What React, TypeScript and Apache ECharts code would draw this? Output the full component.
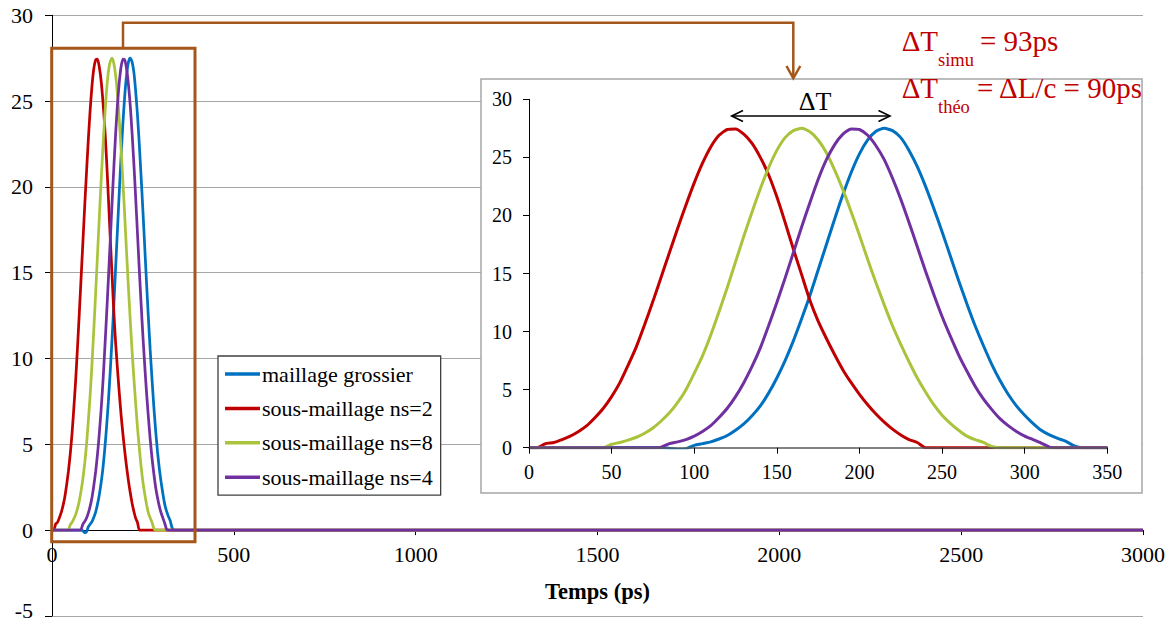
import React, { useEffect, useRef } from "react";
import * as echarts from "echarts";

const TIMES = [0, 5, 10, 15, 20, 25, 30, 35, 40, 45, 50, 55, 60, 65, 70, 75, 80, 85, 90, 95, 100, 105, 110, 115, 120, 125, 130, 135, 140, 145, 150, 155, 160, 165, 170, 175, 180, 185, 190, 195, 200, 205, 210, 215, 220, 225, 230, 235, 240, 245, 250, 255, 260, 265, 270, 275, 280, 285, 290, 295, 300, 305, 310, 315, 320, 325, 330, 335, 340, 345, 350];
const MAIN_END_TIME = 3000;
const SERIES_NAMES = ["maillage grossier", "sous-maillage ns=2", "sous-maillage ns=8", "sous-maillage ns=4"];

const COARSE = [0, 0, 0, 0, 0, 0, 0, 0, 0, 0, 0, 0, 0, 0, 0, 0, 0,
  -0.05, -0.15, -0.1, 0.2, 0.35, 0.5, 0.75, 1.05, 1.5, 2.05, 2.75, 3.6, 4.7, 6.0, 7.5, 9.2, 11.1, 13.1, 15.3, 17.5, 19.7, 21.8, 23.7, 25.3, 26.5, 27.25, 27.5, 27.3, 26.7, 25.6, 24.2, 22.5, 20.6, 18.6, 16.5, 14.4, 12.4, 10.5, 8.8, 7.2, 5.8, 4.6, 3.6, 2.8, 2.1, 1.5, 1.1, 0.8, 0.55, 0.15,
  0, 0, 0, 0];
const NS2 = [0, 0, 0.35, 0.45, 0.7, 1.0, 1.4, 1.9, 2.6, 3.4, 4.4, 5.6, 7.1, 8.7, 10.6, 12.6, 14.7, 16.8, 18.9, 20.9, 22.8, 24.5, 25.9, 26.9, 27.4, 27.45, 27.0, 26.2, 25.0, 23.5, 21.6, 19.4, 17.1, 14.9, 12.7, 10.9, 9.4, 8.0, 6.7, 5.6, 4.6, 3.7, 2.9, 2.2, 1.6, 1.1, 0.7, 0.45, 0,
  0, 0, 0, 0, 0, 0, 0, 0, 0, 0, 0, 0, 0, 0, 0, 0, 0, 0, 0, 0, 0, 0];
const NS8 = [0, 0, 0, 0, 0, 0, 0, 0, 0, 0,
  0.3, 0.45, 0.65, 0.9, 1.25, 1.7, 2.3, 3.0, 3.9, 5.0, 6.4, 7.9, 9.7, 11.7, 13.8, 16.0, 18.2, 20.3, 22.3, 24.1, 25.6, 26.7, 27.3, 27.5, 27.2, 26.5, 25.4, 23.9, 22.2, 20.3, 18.3, 16.2, 14.2, 12.3, 10.5, 8.9, 7.4, 6.0, 4.8, 3.7, 2.8, 2.1, 1.5, 1.0, 0.7, 0.45, 0.1,
  0, 0, 0, 0, 0, 0, 0, 0, 0, 0, 0, 0, 0, 0];
const NS4 = [0, 0, 0, 0, 0, 0, 0, 0, 0, 0, 0, 0, 0, 0, 0, 0,
  0.05, 0.35, 0.5, 0.7, 1.0, 1.4, 1.9, 2.6, 3.4, 4.4, 5.6, 7.0, 8.6, 10.5, 12.5, 14.6, 16.8, 19.0, 21.1, 23.1, 24.8, 26.1, 27.0, 27.45, 27.4, 26.9, 26.0, 24.8, 23.2, 21.4, 19.4, 17.3, 15.2, 13.2, 11.3, 9.6, 8.0, 6.6, 5.3, 4.2, 3.3, 2.5, 1.9, 1.4, 1.0, 0.7, 0.4, 0.05,
  0, 0, 0, 0, 0, 0, 0];

const SERIES_VALUES = [COARSE, NS2, NS8, NS4];
const COLORS = ["#0070C0", "#C00000", "#A9C43C", "#7030A0"];
const FONT = "Liberation Serif";
const BROWN = "#A5561A";
const RED_TEXT = "#C00000";

export default function App() {
  const ref = useRef<HTMLDivElement>(null);
  useEffect(() => {
    if (!ref.current) return;
    const chart = echarts.init(ref.current, undefined, { renderer: "svg" });

    const insetData = SERIES_VALUES.map((vals) => TIMES.map((t, i) => [t, vals[i]]));
    const mainData = insetData.map((d) => d.concat([[MAIN_END_TIME, 0]]));

    const series: any[] = [];
    SERIES_NAMES.forEach((name, i) => {
      series.push({
        name, type: "line", xAxisIndex: 0, yAxisIndex: 0, data: mainData[i],
        symbol: "none", showSymbol: false, smooth: 0.2,
        lineStyle: { color: COLORS[i], width: 2.75 }, itemStyle: { color: COLORS[i] },
      });
    });
    SERIES_NAMES.forEach((name, i) => {
      series.push({
        name, type: "line", xAxisIndex: 1, yAxisIndex: 1, data: insetData[i],
        symbol: "none", showSymbol: false, smooth: 0.2, z: 5,
        lineStyle: { color: COLORS[i], width: 3 }, itemStyle: { color: COLORS[i] },
      });
    });

    const labelBase = { color: "#000", fontFamily: FONT };
    const plain = (v: number) => String(v);
    const mainYLabel = (v: number) => (v < 0 ? "{lo|" + v + "}" : String(v));

    chart.setOption({
      animation: false,
      backgroundColor: "#fff",
      textStyle: { fontFamily: FONT },
      grid: [
        { left: 52, top: 15.3, width: 1091, height: 600.6, outerBoundsMode: "none", containLabel: false },
        { left: 529, top: 99.3, width: 578.3, height: 348.4, outerBoundsMode: "none", containLabel: false },
      ],
      xAxis: [
        {
          gridIndex: 0, type: "value", min: 0, max: 3000, interval: 500,
          position: "bottom", offset: -85.8,
          axisLine: { onZero: false, lineStyle: { color: "#000", width: 1 } },
          axisTick: { show: true, length: 5, lineStyle: { color: "#000" } },
          axisLabel: { ...labelBase, fontSize: 22, margin: 13, formatter: plain },
          splitLine: { show: false },
          name: "Temps (ps)", nameLocation: "middle", nameGap: 50,
          nameTextStyle: { ...labelBase, fontSize: 22.5, fontWeight: "bold" },
        },
        {
          gridIndex: 1, type: "value", min: 0, max: 350, interval: 50, z: 6,
          axisLine: { onZero: false, lineStyle: { color: "#595959", width: 1.5 } },
          axisTick: { show: true, length: 6, lineStyle: { color: "#000" } },
          axisLabel: { ...labelBase, fontSize: 20, margin: 14, formatter: plain },
          splitLine: { show: false },
        },
      ],
      yAxis: [
        {
          gridIndex: 0, type: "value", min: -5, max: 30, interval: 5,
          axisLine: { show: true, onZero: false, lineStyle: { color: "#000", width: 1 } },
          axisTick: { show: true, length: 7, lineStyle: { color: "#000" } },
          axisLabel: {
            ...labelBase, fontSize: 22, lineHeight: 14, margin: 19, formatter: mainYLabel,
            rich: { lo: { ...labelBase, fontSize: 22, lineHeight: 14, padding: [0, 0, 10, 0] } },
          },
          splitLine: { show: true, lineStyle: { color: "#a6a6a6", width: 1 } },
        },
        {
          gridIndex: 1, type: "value", min: 0, max: 30, interval: 5, z: 6,
          axisLine: { show: true, onZero: false, lineStyle: { color: "#000", width: 1 } },
          axisTick: { show: true, length: 6, lineStyle: { color: "#000" } },
          axisLabel: { ...labelBase, fontSize: 20, margin: 17, formatter: plain },
          splitLine: { show: false },
        },
      ],
      legend: {
        data: SERIES_NAMES.map((name, i) => ({ name, icon: "rect", itemStyle: { color: COLORS[i] } })),
        orient: "vertical", left: 218, top: 356,
        backgroundColor: "#fff", borderColor: "#404040", borderWidth: 1.3,
        padding: [7, 8, 7, 7], itemWidth: 35, itemHeight: 3.5, itemGap: 12.4,
        textStyle: { ...labelBase, fontSize: 22, lineHeight: 22, padding: [0, 0, 0, -3] },
        selectedMode: false,
      },
      graphic: [
        { type: "rect", z: 1, shape: { x: 481, y: 79, width: 661, height: 414 }, style: { fill: "#fff", stroke: "#a6a6a6", lineWidth: 1.5 } },
        { type: "rect", z: 10, shape: { x: 51.7, y: 48.3, width: 143.3, height: 493.4 }, style: { fill: "none", stroke: BROWN, lineWidth: 3 } },
        { type: "polyline", z: 10, shape: { points: [[123, 48.3], [123, 22.7], [793.3, 22.7], [793.3, 77.5]] }, style: { fill: "none", stroke: BROWN, lineWidth: 2.5 } },
        { type: "polyline", z: 10, shape: { points: [[786.5, 66], [793.3, 78.3], [800.3, 66]] }, style: { fill: "none", stroke: BROWN, lineWidth: 2.5 } },
        { type: "line", z: 10, shape: { x1: 731.7, y1: 116, x2: 890, y2: 116 }, style: { stroke: "#000", lineWidth: 1.6 } },
        { type: "polyline", z: 10, shape: { points: [[743, 110.5], [731.7, 116], [743, 121.5]] }, style: { fill: "none", stroke: "#000", lineWidth: 1.6 } },
        { type: "polyline", z: 10, shape: { points: [[878.5, 110.5], [890, 116], [878.5, 121.5]] }, style: { fill: "none", stroke: "#000", lineWidth: 1.6 } },
        { type: "text", z: 10, x: 815, y: 101.5, style: { text: "ΔT", fontSize: 26, fontFamily: FONT, fill: "#000", align: "center", verticalAlign: "middle" } },
        { type: "text", z: 10, x: 901.7, y: 41, style: { text: "ΔT", fontSize: 29, fontFamily: FONT, fill: RED_TEXT, align: "left", verticalAlign: "middle" } },
        { type: "text", z: 10, x: 938, y: 59.5, style: { text: "simu", fontSize: 18.5, fontFamily: FONT, fill: RED_TEXT, align: "left", verticalAlign: "middle" } },
        { type: "text", z: 10, x: 980, y: 41, style: { text: "= 93ps", fontSize: 29, fontFamily: FONT, fill: RED_TEXT, align: "left", verticalAlign: "middle" } },
        { type: "text", z: 10, x: 901.7, y: 88, style: { text: "ΔT", fontSize: 29, fontFamily: FONT, fill: RED_TEXT, align: "left", verticalAlign: "middle" } },
        { type: "text", z: 10, x: 938, y: 106.5, style: { text: "théo", fontSize: 18.5, fontFamily: FONT, fill: RED_TEXT, align: "left", verticalAlign: "middle" } },
        { type: "text", z: 10, x: 977, y: 88, style: { text: "= ΔL/c = 90ps", fontSize: 29, fontFamily: FONT, fill: RED_TEXT, align: "left", verticalAlign: "middle" } },
      ],
      series,
    });

    return () => chart.dispose();
  }, []);

  return (
    <div
      ref={ref}
      style={{ position: "fixed", left: 0, top: 0, width: 1172, height: 623, background: "#fff" }}
    />
  );
}
